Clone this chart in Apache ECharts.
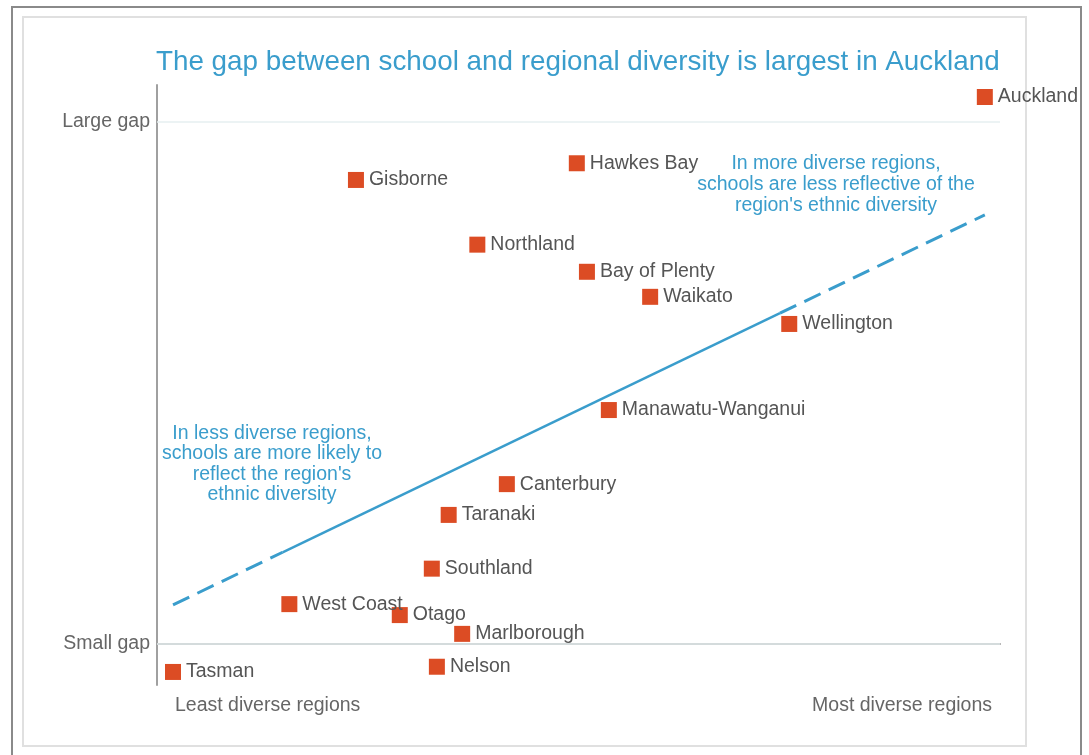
<!DOCTYPE html>
<html>
<head>
<meta charset="utf-8">
<script src="https://cdn.jsdelivr.net/npm/echarts@6/dist/echarts.min.js"></script>
<style>
html,body{margin:0;padding:0;background:#fff;}
#main{width:1089px;height:755px;}
</style>
</head>
<body>
<div id="main"></div>
<script>
// regions, x = diversity (0..100), y = gap (0 = small gap, 100 = large gap)
let regions = ["Auckland","Hawkes Bay","Gisborne","Northland","Bay of Plenty","Waikato","Wellington",
    "Manawatu-Wanganui","Canterbury","Taranaki","Southland","West Coast","Otago","Marlborough","Nelson","Tasman"];
let diversity = [98.2,49.8,23.6,38.0,51.0,58.5,75.0,53.6,41.5,34.6,32.6,15.7,28.8,36.2,33.2,1.9];
let gap = [104.7,92.0,88.8,76.4,71.2,66.4,61.2,44.7,30.5,24.6,14.3,7.5,5.4,1.8,-4.5,-5.5];

// trend line: dashed ends, solid middle
let trendX = [1.9, 14.9, 73.9, 98.2];
let trendY = [7.34, 17.44, 63.26, 82.1];

let gapTicks = [0, 100];
let gapNames = {0: "Small gap", 100: "Large gap"};

let blue = "#3a9dcc";
let font = "Liberation Sans";

let pts = [];
for (let i = 0; i < regions.length; i++) {
    pts.push({name: regions[i], value: [diversity[i], gap[i]]});
}

var myChart = echarts.init(document.getElementById('main'));
var option = {
    animation: false,
    title: {
        text: "The gap between school and regional diversity is largest in Auckland",
        left: 151,
        top: 43,
        textStyle: {color: blue, fontSize: 27.8, fontWeight: "normal", fontFamily: font}
    },
    grid: {left: 157, right: 89, top: 85, bottom: 70},
    xAxis: {
        type: "value", min: 0, max: 100,
        axisLine: {lineStyle: {color: "#a0a0a0", width: 2}},
        axisTick: {show: false},
        axisLabel: {show: false},
        splitLine: {show: false}
    },
    yAxis: {
        type: "value", min: -8, max: 107,
        axisLine: {show: true, lineStyle: {color: "#a0a0a0", width: 2}},
        axisTick: {show: false},
        splitLine: {show: false},
        axisLabel: {
            customValues: gapTicks,
            formatter: v => gapNames[v] || "",
            color: "#666", fontSize: 19.5, fontFamily: font, margin: 7
        }
    },
    graphic: [
        {type: "rect", shape: {x: 12, y: 7, width: 1069, height: 760},
            style: {fill: "none", stroke: "#8a8a8a", lineWidth: 2}, silent: true},
        {type: "rect", shape: {x: 23, y: 17, width: 1003, height: 729},
            style: {fill: "none", stroke: "#e0e0e0", lineWidth: 2}, silent: true},
        {type: "text", left: 175, top: 696,
            style: {text: "Least diverse regions", fill: "#666", fontSize: 19.5, fontFamily: font}},
        {type: "text", right: 97, top: 696,
            style: {text: "Most diverse regions", fill: "#666", fontSize: 19.5, fontFamily: font}},
        {type: "text", x: 836, y: 153,
            style: {text: "In more diverse regions,\nschools are less reflective of the\nregion's ethnic diversity",
                fill: blue, fontSize: 19.5, lineHeight: 21, align: "center", fontFamily: font}},
        {type: "text", x: 272, y: 423,
            style: {text: "In less diverse regions,\nschools are more likely to\nreflect the region's\nethnic diversity",
                fill: blue, fontSize: 19.5, lineHeight: 20.5, align: "center", fontFamily: font}}
    ],
    series: [
        {
            type: "line",
            data: [[trendX[0], trendY[0]], [trendX[1], trendY[1]]],
            symbol: "none", silent: true,
            lineStyle: {color: blue, width: 3, type: [18, 9]}
        },
        {
            type: "line",
            data: [[trendX[1], trendY[1]], [trendX[2], trendY[2]]],
            symbol: "none", silent: true,
            lineStyle: {color: blue, width: 2.5}
        },
        {
            type: "line",
            data: [[trendX[2], trendY[2]], [trendX[3], trendY[3]]],
            symbol: "none", silent: true,
            lineStyle: {color: blue, width: 3, type: [18, 9]}
        },
        {
            type: "scatter",
            data: pts,
            symbol: "rect",
            symbolSize: 16,
            itemStyle: {color: "#dc4c24", opacity: 1},
            label: {
                show: true, position: "right", distance: 5,
                formatter: p => p.name,
                color: "#555", fontSize: 19.5, fontFamily: font
            },
            markLine: {
                silent: true, symbol: "none",
                label: {show: false},
                lineStyle: {color: "#e6eff0", width: 1.5, type: "solid"},
                data: gapTicks.map(v => ({yAxis: v}))
            },
            z: 5
        }
    ]
};
myChart.setOption(option);
</script>
</body>
</html>
